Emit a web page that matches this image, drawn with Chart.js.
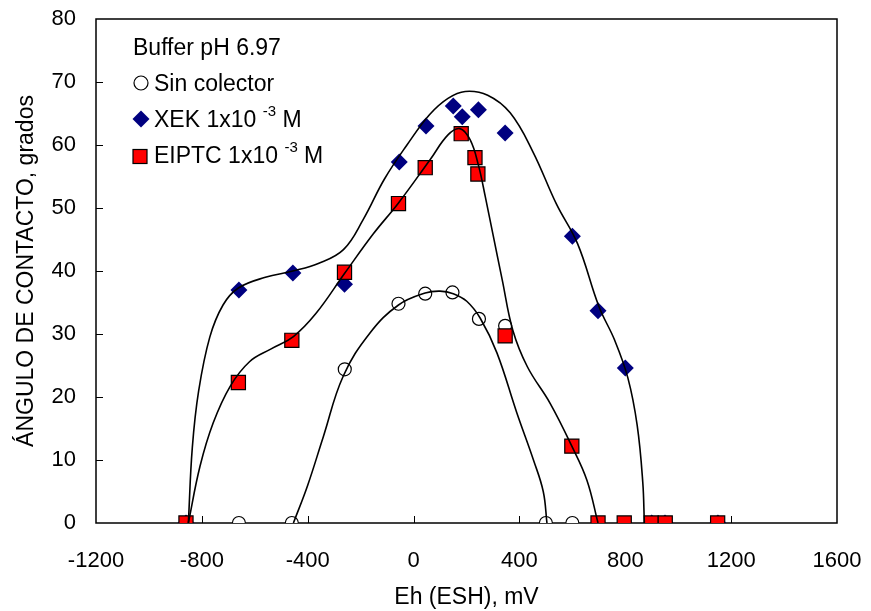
<!DOCTYPE html>
<html>
<head>
<meta charset="utf-8">
<script src="https://cdn.jsdelivr.net/npm/chart.js@4.4.0/dist/chart.umd.min.js"></script>
<style>
  body { margin: 0; background: #fff; }
  canvas { display: block; }
</style>
</head>
<body>
<canvas id="chart" width="871" height="611"></canvas>
<script>
// Measured points (Eh in mV, contact angle in degrees)
const sinX = [-660, -460, -260, -57, 44, 147, 247, 346, 500, 600];
const sinY = [0, 0, 24.4, 34.8, 36.4, 36.6, 32.4, 31.3, 0, 0];

const xekX = [-860, -660, -456, -261, -54, 47, 150, 184, 245, 346, 600, 697, 800, 900, 950, 1150];
const xekY = [0, 37, 39.7, 37.9, 57.3, 63, 66.2, 64.5, 65.6, 61.9, 45.5, 33.7, 24.6, 0, 0, 0];

const eiptcX = [-860, -662, -460, -261, -57, 44, 180, 232, 243, 346, 598, 697, 796, 898, 951, 1149];
const eiptcY = [0, 22.3, 29.0, 39.8, 50.7, 56.4, 61.8, 58.0, 55.4, 29.7, 12.2, 0, 0, 0, 0, 0];

// Hand-fitted trend curves
const xekCurveX = [-851, -836, -812, -770, -720, -662, -560, -456, -360, -265, -190, -110, -25, 60, 130, 195, 280, 365, 450, 540, 620, 700, 760, 810, 845, 866, 872];
const xekCurveY = [0, 12, 21, 29.5, 34.6, 37.3, 39.0, 40.0, 41.2, 43.4, 48.2, 54.6, 60.0, 64.8, 67.4, 68.5, 67.9, 65.1, 59.0, 50.6, 44.3, 34.4, 29.0, 23.0, 15.5, 6.5, 0];

const eiptcCurveX = [-851, -807, -757, -693, -620, -540, -454, -370, -261, -152, -57, 63, 130, 175, 214, 245, 271, 300, 335, 375, 430, 516, 598, 655, 697];
const eiptcCurveY = [0, 9.0, 15.9, 21.7, 25.6, 27.6, 29.6, 33.2, 39.6, 45.9, 50.8, 57.7, 61.6, 62.6, 60.8, 56.8, 51.8, 45.8, 38.6, 30.6, 24.8, 19.0, 12.2, 6.8, 0];

const sinCurveX = [-454, -400, -341, -266, -164, -57, 44, 100, 150, 201, 252, 315, 390, 453, 490, 504];
const sinCurveY = [0, 6.0, 13.7, 23.3, 30.2, 34.6, 36.5, 36.8, 36.4, 35.2, 32.5, 27.0, 17.5, 10.0, 5.0, 0];

const xTicks = [-1200, -800, -400, 0, 400, 800, 1200, 1600];
const yTicks = [0, 10, 20, 30, 40, 50, 60, 70, 80];

const legendTitle = "Buffer pH 6.97";
const seriesNames = ["Sin colector", "XEK 1x10", "EIPTC 1x10"];

function pts(xs, ys) {
  return xs.map((x, i) => ({ x: x, y: ys[i] }));
}

function curve(xs, ys) {
  return {
    data: pts(xs, ys),
    showLine: true,
    borderColor: "#000",
    borderWidth: 1.6,
    pointRadius: 0,
    tension: 0.4,
    fill: false,
    order: 0
  };
}

// inward ticks, frame and the text legend
const framePlugin = {
  id: "frame",
  beforeDatasetsDraw(chart) {
    const { ctx, chartArea: a, scales } = chart;
    ctx.save();
    ctx.strokeStyle = "#000";
    ctx.lineWidth = 1.5;
    ctx.strokeRect(a.left, a.top, a.right - a.left, a.bottom - a.top);
    ctx.beginPath();
    xTicks.slice(1, -1).forEach(v => {
      const px = Math.round(scales.x.getPixelForValue(v)) + 0.5;
      ctx.moveTo(px, a.bottom);
      ctx.lineTo(px, a.bottom - 7);
    });
    yTicks.slice(1, -1).forEach(v => {
      const py = Math.round(scales.y.getPixelForValue(v)) + 0.5;
      ctx.moveTo(a.left, py);
      ctx.lineTo(a.left + 7, py);
    });
    ctx.lineWidth = 1;
    ctx.stroke();
    ctx.restore();
  },
  afterDraw(chart) {
    const ctx = chart.ctx;
    const font = "23px 'Liberation Sans', Arial, sans-serif";
    const supFont = "15px 'Liberation Sans', Arial, sans-serif";
    ctx.save();
    ctx.fillStyle = "#000";
    ctx.textBaseline = "alphabetic";
    ctx.textAlign = "left";
    ctx.font = font;
    ctx.fillText(legendTitle, 133, 55);

    // circle
    ctx.beginPath();
    ctx.arc(141, 83, 7, 0, Math.PI * 2);
    ctx.fillStyle = "#fff";
    ctx.fill();
    ctx.strokeStyle = "#000";
    ctx.lineWidth = 1.2;
    ctx.stroke();
    ctx.fillStyle = "#000";
    ctx.fillText(seriesNames[0], 154, 91);

    // diamond
    ctx.beginPath();
    ctx.moveTo(141, 110.5);
    ctx.lineTo(149.5, 119);
    ctx.lineTo(141, 127.5);
    ctx.lineTo(132.5, 119);
    ctx.closePath();
    ctx.fillStyle = "#000080";
    ctx.fill();

    // square
    ctx.fillStyle = "#ff0000";
    ctx.fillRect(133, 149.5, 14, 14);
    ctx.strokeStyle = "#000";
    ctx.lineWidth = 1.2;
    ctx.strokeRect(133, 149.5, 14, 14);

    ctx.fillStyle = "#000";
    [[seriesNames[1], 127], [seriesNames[2], 163]].forEach(([t, base]) => {
      ctx.font = font;
      ctx.fillText(t, 154, base);
      let x = 154 + ctx.measureText(t + " ").width;
      ctx.font = supFont;
      ctx.fillText("-3", x, base - 11);
      x += ctx.measureText("-3").width;
      ctx.font = font;
      ctx.fillText(" M", x, base);
    });
    ctx.restore();
  }
};

const tickFont = { family: "'Liberation Sans', Arial, sans-serif", size: 22 };
const titleFont = { family: "'Liberation Sans', Arial, sans-serif", size: 23 };

function noPad(s) {
  s.paddingTop = 0;
  s.paddingBottom = 0;
  s.paddingLeft = 0;
  s.paddingRight = 0;
}

new Chart(document.getElementById("chart"), {
  type: "scatter",
  data: {
    datasets: [
      {
        label: seriesNames[0],
        data: pts(sinX, sinY),
        pointStyle: "circle",
        pointRadius: 6.5,
        backgroundColor: "#fff",
        borderColor: "#000",
        borderWidth: 1.2,
        order: 3
      },
      {
        label: seriesNames[1],
        data: pts(xekX, xekY),
        pointStyle: "rectRot",
        pointRadius: 8.5,
        backgroundColor: "#000080",
        borderColor: "#000080",
        borderWidth: 0,
        order: 2
      },
      {
        label: seriesNames[2],
        data: pts(eiptcX, eiptcY),
        pointStyle: "rect",
        pointRadius: 10,
        backgroundColor: "#ff0000",
        borderColor: "#000",
        borderWidth: 1.2,
        order: 1
      },
      curve(sinCurveX, sinCurveY),
      curve(xekCurveX, xekCurveY),
      curve(eiptcCurveX, eiptcCurveY)
    ]
  },
  options: {
    responsive: false,
    animation: false,
    events: [],
    layout: { padding: { top: 19, right: 34, left: 0, bottom: 0 } },
    plugins: { legend: { display: false }, tooltip: { enabled: false } },
    scales: {
      x: {
        type: "linear",
        min: -1200,
        max: 1600,
        afterFit(s) { s.height = 88; noPad(s); },
        afterBuildTicks(s) { s.ticks = xTicks.map(v => ({ value: v })); },
        grid: { display: false },
        border: { display: false },
        ticks: { color: "#000", font: tickFont, padding: 17, maxRotation: 0, callback: v => String(v) },
        title: { display: true, text: "Eh (ESH), mV", color: "#000", font: titleFont, padding: { top: 0, bottom: 0 } }
      },
      y: {
        type: "linear",
        min: 0,
        max: 80,
        afterFit(s) { s.width = 96; noPad(s); },
        afterBuildTicks(s) { s.ticks = yTicks.map(v => ({ value: v })); },
        grid: { display: false },
        border: { display: false },
        ticks: { color: "#000", font: tickFont, padding: 12, callback: v => String(v) },
        title: { display: true, text: "ÁNGULO DE CONTACTO, grados", color: "#000", font: titleFont, padding: { top: 13, bottom: 0 } }
      }
    }
  },
  plugins: [framePlugin]
});
</script>
</body>
</html>
